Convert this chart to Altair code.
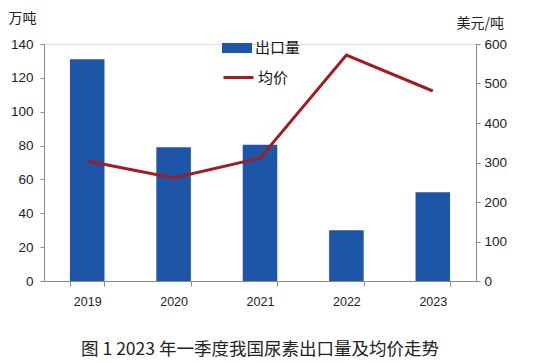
import altair as alt
import pandas as pd

years = ["2019", "2020", "2021", "2022", "2023"]
export_volume = [131, 79, 80.5, 30, 52.5]      # 万吨
avg_price = [304, 261, 311, 572, 481]           # 美元/吨
bar_series = ["出口量"] * 5
line_series = ["均价"] * 5

df = pd.DataFrame({
    "year": years,
    "volume": export_volume,
    "price": avg_price,
    "s1": bar_series,
    "s2": line_series,
})

AX = "#8a8a8a"
LF = "Liberation Sans"
CJK = "Noto Sans CJK SC"

x = alt.X(
    "year:N",
    title=None,
    scale=alt.Scale(paddingInner=0.6, paddingOuter=0.3),
    axis=alt.Axis(
        labelAngle=0, tickBand="extent", labelPadding=9, tickSize=5,
        domainColor=AX, tickColor=AX, labelFont=LF, labelFontSize=12.5,
        labelColor="#222",
    ),
)

bars = alt.Chart(df).mark_bar().encode(
    x=x,
    y=alt.Y(
        "volume:Q",
        scale=alt.Scale(domain=[0, 140], nice=False),
        axis=alt.Axis(
            values=[0, 20, 40, 60, 80, 100, 120, 140], grid=False,
            tickSize=4, domainColor=AX, tickColor=AX, labelFont=LF,
            labelFontSize=13.5, labelColor="#222", labelPadding=7,
            title="万吨", titleAngle=0, titleX=-36, titleY=-26,
            titleAlign="left", titleBaseline="middle", titleFont=CJK,
            titleFontSize=14, titleFontWeight="normal", titleColor="#222",
        ),
    ),
    fill=alt.Fill(
        "s1:N",
        scale=alt.Scale(range=["#1D56A6"]),
        legend=alt.Legend(
            title=None, orient="none", legendX=183, legendY=-6,
            symbolType="M-1.5,-0.5 H1.5 V0.5 H-1.5 Z", symbolSize=400,
            symbolStrokeWidth=0, labelFont=CJK, labelFontSize=15,
            labelColor="#111", padding=0, labelOffset=8,
        ),
    ),
)

line = alt.Chart(df).mark_line(strokeWidth=3).encode(
    x=x,
    y=alt.Y(
        "price:Q",
        scale=alt.Scale(domain=[0, 600], nice=False),
        axis=alt.Axis(
            orient="right", values=[0, 100, 200, 300, 400, 500, 600],
            grid=False, tickSize=4, domainColor=AX, tickColor=AX,
            labelFont=LF, labelFontSize=13.5, labelColor="#222", labelPadding=4,
            title="美元/吨", titleAngle=0, titleX=-20, titleY=-21,
            titleAlign="left", titleBaseline="middle", titleFont=CJK,
            titleFontSize=14, titleFontWeight="normal", titleColor="#222",
        ),
    ),
    stroke=alt.Stroke(
        "s2:N",
        scale=alt.Scale(range=["#A01D22"]),
        legend=alt.Legend(
            title=None, orient="none", legendX=183, legendY=22,
            symbolType="M-1.5,0 H1.5", symbolSize=400,
            symbolStrokeWidth=3, labelFont=CJK, labelFontSize=15,
            labelColor="#111", padding=0, labelOffset=8,
        ),
    ),
)

chart = alt.layer(bars, line).resolve_scale(
    y="independent", fill="independent", stroke="independent"
).resolve_legend(fill="independent", stroke="independent").properties(
    width=432,
    height=237,
    padding={"left": 36, "top": 36, "right": 61, "bottom": 80},
    autosize=alt.AutoSizeParams(type="none"),
    title=alt.TitleParams(
        "图 1  2023 年一季度我国尿素出口量及均价走势",
        orient="bottom", anchor="middle", offset=33, font=CJK,
        fontSize=17.5, fontWeight="normal", color="#222",
    ),
).configure_view(stroke=None).configure(background="white")

chart.save("out.html", embed_options={"renderer": "svg", "actions": False})
